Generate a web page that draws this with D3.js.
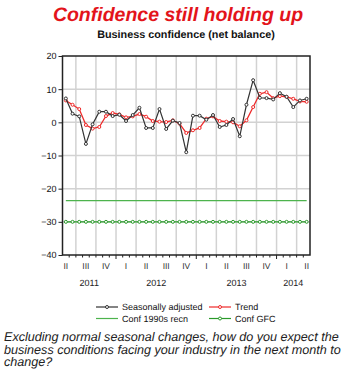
<!DOCTYPE html>
<html><head><meta charset="utf-8">
<script src="https://cdn.jsdelivr.net/npm/d3@7/dist/d3.min.js"></script>
<style>
html,body{margin:0;padding:0;background:#fff;}
svg{display:block;font-family:"Liberation Sans",Arial,sans-serif;text-rendering:geometricPrecision;}
</style></head>
<body><svg id="c" width="359" height="381"></svg>
<script>
const months = ["2011-05","2011-06","2011-07","2011-08","2011-09","2011-10","2011-11","2011-12",
"2012-01","2012-02","2012-03","2012-04","2012-05","2012-06","2012-07","2012-08","2012-09","2012-10","2012-11","2012-12",
"2013-01","2013-02","2013-03","2013-04","2013-05","2013-06","2013-07","2013-08","2013-09","2013-10","2013-11","2013-12",
"2014-01","2014-02","2014-03","2014-04","2014-05"];
const seasAdj = [7.2,2.6,1.8,-6.5,-0.6,3.2,3.2,1.9,2.3,0.4,2.2,4.4,-1.7,-1.7,4.0,-2.0,0.5,-0.2,-9.0,2.0,2.0,0.8,2.2,-1.4,-0.8,1.0,-4.2,5.3,12.7,7.4,7.3,6.9,8.8,7.7,4.6,6.6,7.1];
const trend = [6.6,5.3,4.0,-0.8,-1.9,-1.4,1.9,2.8,2.4,1.5,1.8,2.5,1.7,0.4,0.2,0.1,0.6,-0.4,-3.2,-2.4,-1.7,1.1,1.8,0.4,0.2,0.0,-1.2,0.6,4.6,8.6,9.1,7.3,7.9,7.7,7.1,6.3,6.2];
const conf1990sLevel = -23.6;
const confGFCLevel = -30;
const yTicks = [20,10,0,-10,-20,-30,-40];
const quarterNames = ["I","II","III","IV"];
const yearLabels = ["2011","2012","2013","2014"];

const svg = d3.select("#c");
const L=62.5,R=310,T=56,B=255;
const x = d3.scaleBand().domain(months).range([L,R]).paddingInner(0).paddingOuter(0);
const cx = m => x(m)+x.bandwidth()/2;
const y = d3.scaleLinear().domain([-40,20]).range([B,T]);
const mon = m => +m.slice(5,7);
const yr = m => m.slice(0,4);

// title
svg.append("text").attr("x",178).attr("y",21).attr("text-anchor","middle")
  .attr("font-size","19.5px").attr("font-weight","bold").attr("font-style","italic")
  .attr("fill","#e3141b").text("Confidence still holding up");
svg.append("text").attr("x",186).attr("y",38).attr("text-anchor","middle")
  .attr("font-size","10.8px").attr("font-weight","bold").attr("fill","#111")
  .text("Business confidence (net balance)");

// gridlines
const g = svg.append("g");
g.selectAll(".hg").data(yTicks.filter(v=>v>-40&&v<20)).enter().append("line")
  .attr("x1",L).attr("x2",R).attr("y1",d=>y(d)).attr("y2",d=>y(d))
  .attr("stroke","#d2d2d2").attr("stroke-width",1.5);
const qStarts = months.filter(m=>[1,4,7,10].includes(mon(m)));
g.selectAll(".vg").data(qStarts).enter().append("line")
  .attr("x1",d=>x(d)).attr("x2",d=>x(d)).attr("y1",T).attr("y2",B)
  .attr("stroke","#d2d2d2").attr("stroke-width",1.5);

// y axis
const yAxis = d3.axisLeft(y).tickValues(yTicks).tickSize(4).tickPadding(2);
const ya = svg.append("g").attr("transform",`translate(${L},0)`).call(yAxis);
ya.select(".domain").remove();
ya.selectAll("text").attr("font-size","9px").attr("fill","#111").attr("font-family","Liberation Sans, Arial, sans-serif");
ya.selectAll("line").attr("stroke","#222");

// x ticks (monthly)
const xt = svg.append("g");
xt.selectAll("line").data(months.slice(1)).enter().append("line")
  .attr("x1",d=>x(d)).attr("x2",d=>x(d)).attr("y1",B)
  .attr("y2",d=>B+(mon(d)===1?4:2.5)).attr("stroke","#222").attr("stroke-width",1);

// quarter labels at middle month of quarter
const qMid = months.filter(m=>[2,5,8,11].includes(mon(m)));
svg.append("g").selectAll("text").data(qMid).enter().append("text")
  .attr("x",d=>cx(d)).attr("y",269).attr("text-anchor","middle")
  .attr("font-size","8.5px").attr("fill","#333")
  .text(d=>quarterNames[Math.floor((mon(d)-1)/3)]);
// year labels centred over visible span of each year
svg.append("g").selectAll("text").data(yearLabels).enter().append("text")
  .attr("x",d=>{const ms=months.filter(m=>yr(m)===d);return (x(ms[0])+x(ms[ms.length-1])+x.bandwidth())/2;})
  .attr("y",286).attr("text-anchor","middle").attr("font-size","9px").attr("fill","#222").text(d=>d);

// series
const line = d3.line().x((d,i)=>cx(months[i])).y(d=>y(d));
function series(vals,color,marker,width){
  svg.append("path").datum(vals).attr("d",line).attr("fill","none").attr("stroke",color).attr("stroke-width",width||1.2);
  if(marker){
    svg.append("g").selectAll("circle").data(vals).enter().append("circle")
      .attr("cx",(d,i)=>cx(months[i])).attr("cy",d=>y(d)).attr("r",1.5)
      .attr("fill","#fff").attr("stroke",color).attr("stroke-width",1);
  }
}
series(months.map(()=>conf1990sLevel),"#4db34d",false,1.3);
series(months.map(()=>confGFCLevel),"#2a9a2a",true,1.2);
series(trend,"#ee2a2a",true,1.3);
series(seasAdj,"#333",true,1.2);

// frame
svg.append("rect").attr("x",L).attr("y",T).attr("width",R-L).attr("height",B-T)
  .attr("fill","none").attr("stroke","#222").attr("stroke-width",1.5);

// legend
const legend = [
  {name:"Seasonally adjusted",color:"#333",marker:true,x:96,y:307},
  {name:"Trend",color:"#ee2a2a",marker:true,x:209,y:307},
  {name:"Conf 1990s recn",color:"#4db34d",marker:false,x:96,y:318.5},
  {name:"Conf GFC",color:"#2a9a2a",marker:true,x:209,y:318.5}
];
const lg = svg.append("g");
legend.forEach(d=>{
  lg.append("line").attr("x1",d.x).attr("x2",d.x+22).attr("y1",d.y).attr("y2",d.y).attr("stroke",d.color).attr("stroke-width",1.2);
  if(d.marker) lg.append("circle").attr("cx",d.x+11).attr("cy",d.y).attr("r",1.5).attr("fill","#fff").attr("stroke",d.color);
  lg.append("text").attr("x",d.x+26).attr("y",d.y+3.2).attr("font-size","9px").attr("fill","#111").text(d.name);
});

// footnote
const foot = ["Excluding normal seasonal changes, how do you expect the",
"business conditions facing your industry in the next month to","change?"];
svg.append("g").selectAll("text").data(foot).enter().append("text")
  .attr("x",4).attr("y",(d,i)=>341+i*12.6).attr("font-size","12.6px").attr("font-style","italic")
  .attr("fill","#222").text(d=>d);
</script></body></html>
